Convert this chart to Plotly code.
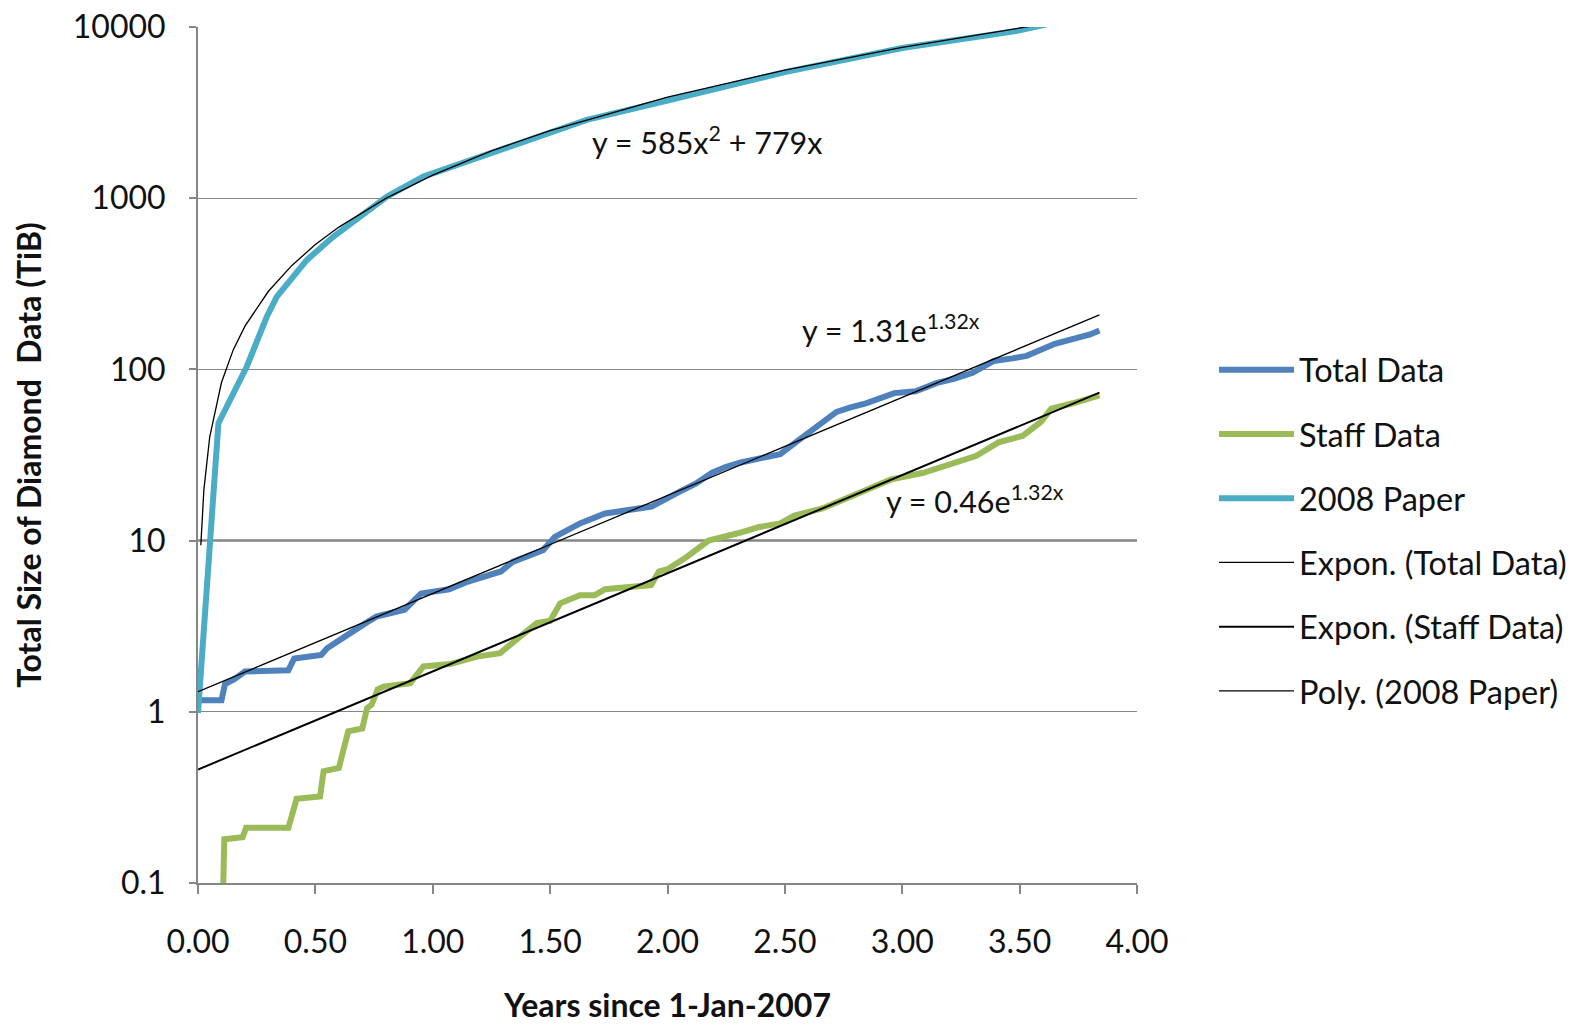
import plotly.graph_objects as go

# ---- data ----
total_x = [0.0, 0.10, 0.115, 0.155, 0.20, 0.385, 0.41, 0.525, 0.55, 0.62, 0.66, 0.73, 0.76, 0.795, 0.88, 0.95,
           1.07, 1.14, 1.22, 1.29, 1.34, 1.40, 1.47, 1.52, 1.58, 1.627, 1.734, 1.84, 1.932, 2.054, 2.12, 2.19,
           2.25, 2.312, 2.40, 2.48, 2.556, 2.63, 2.72, 2.78, 2.845, 2.966, 3.057, 3.148, 3.22, 3.30, 3.39,
           3.47, 3.53, 3.65, 3.757, 3.80, 3.84]
total_y = [1.17, 1.17, 1.45, 1.55, 1.72, 1.75, 2.05, 2.15, 2.35, 2.75, 2.95, 3.4, 3.6, 3.7, 3.95, 4.9,
           5.2, 5.7, 6.1, 6.6, 7.5, 8.0, 8.8, 10.5, 11.5, 12.6, 14.4, 15.0, 15.8, 19.4, 21.5, 24.9,
           27.0, 28.6, 30.5, 32.0, 38.4, 46.0, 56.5, 60.0, 63.4, 72.7, 74.5, 83.4, 88.0, 95.5, 112,
           116, 120, 141, 153, 160, 169]

staff_x = [0.107, 0.112, 0.19, 0.205, 0.385, 0.42, 0.52, 0.535, 0.60, 0.64, 0.70, 0.72, 0.74, 0.765, 0.79,
           0.904, 0.96, 1.074, 1.188, 1.287, 1.372, 1.443, 1.50, 1.543, 1.627, 1.69, 1.734, 1.93, 1.963,
           2.0, 2.08, 2.175, 2.296, 2.39, 2.48, 2.54, 2.66, 2.80, 2.95, 3.09, 3.225, 3.316, 3.41, 3.514,
           3.59, 3.635, 3.727, 3.84]
staff_y = [0.09, 0.18, 0.185, 0.21, 0.21, 0.31, 0.32, 0.45, 0.47, 0.77, 0.8, 1.05, 1.1, 1.35, 1.4,
           1.47, 1.84, 1.9, 2.1, 2.2, 2.75, 3.3, 3.4, 4.3, 4.8, 4.8, 5.2, 5.5, 6.6,
           6.8, 8.0, 10.0, 11.0, 12.0, 12.6, 14.0, 15.4, 18.5, 22.7, 24.9, 28.6, 31.3, 37.5, 41.0,
           49.3, 59.0, 63.4, 70.5]

paper_x = [0.0, 0.087, 0.208, 0.293, 0.336, 0.464, 0.577, 0.805, 0.96, 1.245, 1.656, 2.0, 2.5, 3.0, 3.5, 3.62]
paper_y = [0.985, 48.5, 104, 203, 266, 436, 597, 1021, 1337, 1832, 2866, 3720, 5450, 7540, 9550, 10400]

exp_total_x = [0.0, 1.0, 2.0, 3.0, 3.84]
exp_total_y = [1.31, 4.9, 18.3, 68.8, 208]

exp_staff_x = [0.0, 1.0, 2.0, 3.0, 3.84]
exp_staff_y = [0.46, 1.72, 6.43, 24.2, 73.2]

poly_x = [0.012, 0.025, 0.05, 0.1, 0.15, 0.2, 0.3, 0.4, 0.5, 0.6, 0.8, 1.0, 1.25, 1.5, 2.0, 2.5, 3.0, 3.5, 3.6]
poly_y = [9.4, 19.8, 40.4, 83.8, 130, 179, 286, 405, 536, 678, 997, 1364, 1888, 2485, 3898, 5604, 7602, 9894, 10386]

y_tickvals = [0.1, 1, 10, 100, 1000, 10000]
y_ticktext = ["0.1", "1", "10", "100", "1000", "10000"]

FONT = "Lato"
GRID = "#868686"

fig = go.Figure()

series = [
    ("Total Data", total_x, total_y, "#4F81BD", 6),
    ("Staff Data", staff_x, staff_y, "#9BBB59", 6),
    ("2008 Paper", paper_x, paper_y, "#4BACC6", 6),
    ("Expon. (Total Data)", exp_total_x, exp_total_y, "#000000", 1.3),
    ("Expon. (Staff Data)", exp_staff_x, exp_staff_y, "#000000", 2),
    ("Poly. (2008 Paper)", poly_x, poly_y, "#000000", 1.3),
]
for i, (name, xs, ys, col, w) in enumerate(series):
    fig.add_trace(go.Scatter(x=xs, y=ys, mode="lines", name=name,
                             line=dict(color=col, width=w),
                             legendgroup=f"g{i}"))

fig.add_shape(type="line", xref="paper", x0=0, x1=1, yref="y", y0=10, y1=10,
              line=dict(color=GRID, width=2.5), layer="below")

ann_font = dict(family=FONT, size=30.5, color="#111111")
fig.add_annotation(x=2.17, y=3.34, text="y = 585x<sup>2</sup> + 779x", showarrow=False, font=ann_font)
fig.add_annotation(x=2.95, y=2.24, text="y = 1.31e<sup>1.32x</sup>", showarrow=False, font=ann_font)
fig.add_annotation(x=3.31, y=1.244, text="y = 0.46e<sup>1.32x</sup>", showarrow=False, font=ann_font)

fig.update_layout(
    width=1574, height=1024,
    margin=dict(l=198, r=437, t=27, b=141, autoexpand=False),
    paper_bgcolor="white", plot_bgcolor="white",
    font=dict(family=FONT, size=32, color="#111111"),
    showlegend=True,
    legend=dict(x=1.082, xanchor="left", y=0.632, yanchor="top",
                font=dict(family=FONT, size=32.5, color="#111111"),
                itemwidth=75, tracegroupgap=19, traceorder="grouped",
                bgcolor="rgba(0,0,0,0)"),
    xaxis=dict(range=[0, 4], dtick=0.5, tick0=0, tickformat=".2f",
               showgrid=False, zeroline=False, automargin=False,
               showline=True, linecolor=GRID, linewidth=2,
               ticks="outside", ticklen=9, tickwidth=2, tickcolor=GRID,
               ticklabelstandoff=21,
               title=dict(text="Years since 1-Jan-2007", standoff=42,
                          font=dict(family=FONT, size=32, weight="bold", color="#111111"))),
    yaxis=dict(type="log", range=[-1, 4], tickvals=y_tickvals, ticktext=y_ticktext,
               showgrid=True, gridcolor=GRID, gridwidth=1.3, zeroline=False, automargin=False,
               showline=True, linecolor=GRID, linewidth=2,
               ticks="outside", ticklen=7, tickwidth=2, tickcolor=GRID,
               ticklabelstandoff=17,
               title=dict(text="Total Size of Diamond  Data (TiB)", standoff=22,
                          font=dict(family=FONT, size=32, weight="bold", color="#111111"))),
)

fig.write_html("out.html")
